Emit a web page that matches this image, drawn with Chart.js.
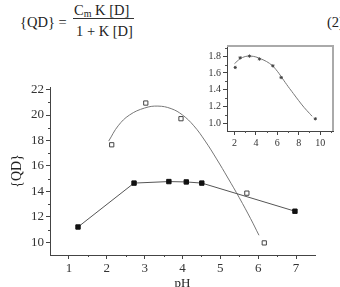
<!DOCTYPE html>
<html>
<head>
<meta charset="utf-8">
<script src="https://cdn.jsdelivr.net/npm/chart.js@4.4.1/dist/chart.umd.min.js"></script>
<style>
  html, body { margin: 0; padding: 0; background: #fff; }
  body { width: 340px; height: 287px; position: relative; overflow: hidden; font-family: 'Liberation Serif', 'DejaVu Serif', serif; color: #222; }
  #main { position: absolute; left: 0; top: 0; }
  #inset { position: absolute; left: 195px; top: 38px; }
  .eq { position: absolute; font-size: 14.5px; line-height: 16px; white-space: nowrap; }
  .eq sub { font-size: 10px; vertical-align: -2px; line-height: 0; }
  #frac-line { position: absolute; left: 73px; top: 18px; width: 61px; height: 0; border-top: 1px solid #333; }
</style>
</head>
<body>
<div class="eq" style="left:20px;top:14px">{QD} =</div>
<div class="eq" style="left:74px;top:2px">C<sub>m</sub> K [D]</div>
<div id="frac-line"></div>
<div class="eq" style="left:76px;top:23px">1 + K [D]</div>
<div class="eq" style="left:327px;top:14px">(2)</div>
<canvas id="main" width="340" height="287"></canvas>
<canvas id="inset" width="145" height="110"></canvas>
<script>
// main plot: filled squares (joined), open squares + fitted curve
const phFilled = [1.24, 2.72, 3.64, 4.10, 4.51, 6.97];
const qdFilled = [11.2, 14.65, 14.77, 14.74, 14.65, 12.44];
const phOpen = [2.13, 3.03, 3.96, 5.70, 6.16];
const qdOpen = [17.66, 20.94, 19.71, 13.86, 9.95];
const phFit = [2.05, 2.3, 2.6, 3.0, 3.35, 3.7, 4.0, 4.3, 4.6, 4.9, 5.2, 5.5, 5.8, 6.02];
const qdFit = [17.95, 19.15, 20.0, 20.55, 20.7, 20.5, 20.0, 19.15, 17.95, 16.55, 15.05, 13.5, 11.85, 10.55];

const xTicksMain = [1, 2, 3, 4, 5, 6, 7];
const yTicksMain = [10, 12, 14, 16, 18, 20, 22];
const xMinorMain = [1.5, 2.5, 3.5, 4.5, 5.5, 6.5];
const yMinorMain = [11, 13, 15, 17, 19, 21];

// inset plot
const phInset = [2.07, 2.53, 3.4, 4.33, 5.58, 6.36, 9.55];
const valInset = [1.665, 1.78, 1.80, 1.765, 1.685, 1.545, 1.055];
const phInsetFit = [2.0, 2.5, 3.0, 3.5, 4.0, 4.5, 5.0, 5.5, 6.0, 6.5, 7.0, 7.5, 8.0, 8.5, 9.0, 9.25];
const valInsetFit = [1.71, 1.765, 1.795, 1.80, 1.79, 1.765, 1.735, 1.69, 1.62, 1.53, 1.44, 1.355, 1.27, 1.19, 1.12, 1.085];

const xTicksInset = [2, 4, 6, 8, 10];
const yTicksInset = [1.0, 1.2, 1.4, 1.6, 1.8];
const xMinorInset = [3, 5, 7, 9, 11];
const yMinorInset = [1.1, 1.3, 1.5, 1.7, 1.9];

const toPoints = (xs, ys) => xs.map((x, i) => ({ x, y: ys[i] }));
const serif = "'Liberation Serif', 'DejaVu Serif', serif";

// Draw short minor ticks (and optional top/right frame) from the chart scales.
const minorTicks = {
  id: 'minorTicks',
  afterDraw(chart, args, opts) {
    const ctx = chart.ctx;
    const xs = chart.scales.x;
    const ys = chart.scales.y;
    ctx.save();
    ctx.strokeStyle = opts.color;
    ctx.lineWidth = 1;
    ctx.beginPath();
    (opts.x || []).forEach(v => {
      const px = Math.round(xs.getPixelForValue(v)) + 0.5;
      ctx.moveTo(px, xs.top);
      ctx.lineTo(px, xs.top + opts.len);
    });
    (opts.y || []).forEach(v => {
      const py = Math.round(ys.getPixelForValue(v)) + 0.5;
      ctx.moveTo(ys.right, py);
      ctx.lineTo(ys.right - opts.len, py);
    });
    ctx.stroke();
    if (opts.frame) {
      const a = chart.chartArea;
      ctx.strokeStyle = opts.frame;
      ctx.lineWidth = 2;
      ctx.beginPath();
      ctx.moveTo(a.left, a.top);
      ctx.lineTo(a.right, a.top);
      ctx.lineTo(a.right, a.bottom);
      ctx.stroke();
    }
    ctx.restore();
  }
};

const axisStyle = (ticks, fontSize, fmt) => ({
  afterBuildTicks: scale => { scale.ticks = ticks.map(v => ({ value: v })); },
  grid: { display: true, drawOnChartArea: false, drawTicks: true, tickLength: 4, color: '#444' },
  border: { display: true, color: '#444', width: 1 },
  ticks: {
    font: { family: serif, size: fontSize },
    color: '#333',
    padding: 2,
    maxRotation: 0,
    autoSkip: false,
    callback: v => fmt ? Number(v).toFixed(fmt) : v
  }
});

new Chart(document.getElementById('main'), {
  type: 'scatter',
  data: {
    datasets: [
      {
        data: toPoints(phFilled, qdFilled),
        showLine: true,
        borderColor: '#555',
        borderWidth: 1,
        pointStyle: 'rect',
        pointRadius: 3.1,
        pointBackgroundColor: '#111',
        pointBorderColor: '#111',
        order: 1
      },
      {
        data: toPoints(phOpen, qdOpen),
        showLine: false,
        pointStyle: 'rect',
        pointRadius: 3,
        pointBackgroundColor: '#fff',
        pointBorderColor: '#444',
        pointBorderWidth: 1,
        order: 0
      },
      {
        data: toPoints(phFit, qdFit),
        showLine: true,
        tension: 0.4,
        borderColor: '#777',
        borderWidth: 1,
        pointRadius: 0,
        order: 2
      }
    ]
  },
  options: {
    responsive: false,
    animation: false,
    devicePixelRatio: 1,
    layout: { padding: { left: 0, top: 87, right: 25, bottom: 0 } },
    plugins: {
      legend: { display: false },
      tooltip: { enabled: false },
      minorTicks: { x: xMinorMain, y: yMinorMain, len: 2, color: '#444' }
    },
    scales: {
      x: Object.assign(axisStyle(xTicksMain, 13), {
        type: 'linear', min: 0.5, max: 7.5,
        afterFit: s => { s.height = 32; },
        title: { display: true, text: 'pH', font: { family: serif, size: 13 }, color: '#222', padding: { top: 0, bottom: -4 } }
      }),
      y: Object.assign(axisStyle(yTicksMain, 13), {
        type: 'linear', min: 9, max: 22.2,
        afterFit: s => { s.width = 50; },
        title: { display: true, text: '{QD}', font: { family: serif, size: 14 }, color: '#222', padding: { top: 9, bottom: 0 } }
      })
    }
  },
  plugins: [minorTicks]
});

new Chart(document.getElementById('inset'), {
  type: 'scatter',
  data: {
    datasets: [
      {
        data: toPoints(phInset, valInset),
        showLine: false,
        pointStyle: 'star',
        pointRadius: 1.6,
        pointBorderColor: '#444',
        pointBorderWidth: 1,
        order: 0
      },
      {
        data: toPoints(phInsetFit, valInsetFit),
        showLine: true,
        tension: 0.4,
        borderColor: '#777',
        borderWidth: 1,
        pointRadius: 0,
        order: 1
      }
    ]
  },
  options: {
    responsive: false,
    animation: false,
    devicePixelRatio: 1,
    layout: { padding: { left: 0, top: 8, right: 7, bottom: 0 } },
    plugins: {
      legend: { display: false },
      tooltip: { enabled: false },
      minorTicks: { x: xMinorInset, y: yMinorInset, len: 2, color: '#555', frame: '#aaa' }
    },
    scales: {
      x: Object.assign(axisStyle(xTicksInset, 10), {
        type: 'linear', min: 1.3, max: 11.2,
        afterFit: s => { s.height = 17; }
      }),
      y: Object.assign(axisStyle(yTicksInset, 10, 1), {
        type: 'linear', min: 0.91, max: 1.92,
        afterFit: s => { s.width = 32; }
      })
    }
  },
  plugins: [minorTicks]
});
</script>
</body>
</html>
